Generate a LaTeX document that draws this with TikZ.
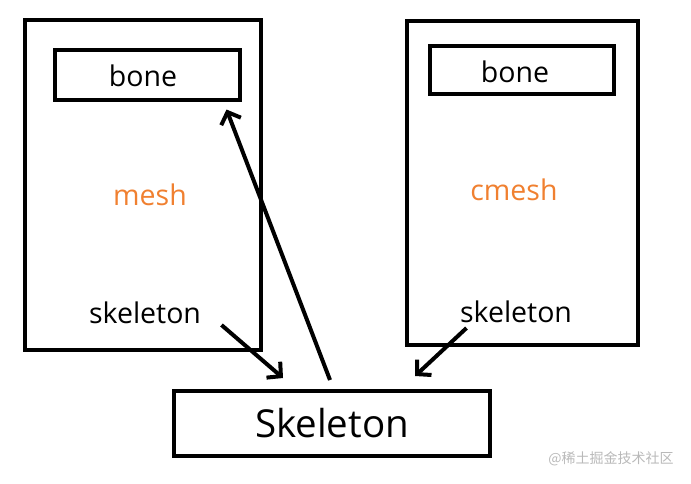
\documentclass[tikz,border=0pt]{standalone}
\usepackage{fontspec}
\setmainfont{Open Sans}
\newfontfamily\cjkfont{Noto Sans CJK SC}
\usepackage{xcolor}
\definecolor{MeshOrange}{RGB}{240,128,48}
\definecolor{MarkGrey}{RGB}{185,185,185}
\usepackage{tikz}
\usetikzlibrary{arrows.meta, positioning}
\tikzset{
	box/.style={draw, line width=4pt, inner sep=0pt},
	word/.style={font=\fontsize{28.5}{31}\selectfont},
	meshword/.style={word, text=MeshOrange},
	link/.style={line width=4pt, -{Straight Barb[length=10pt, width=21pt, line width=4pt]}}
}

\begin{document}
\begin{tikzpicture}[x=1pt, y=-1pt]

	\useasboundingbox (0,0) rectangle (691,483);

	% left block
	\node[box, minimum width=236pt, minimum height=330pt] (MeshL) at (143,185) {};
	\node[box, minimum width=185pt, minimum height=50pt] (BoneL) at (147,74.5) {};
	\node[word] (BoneLText) at (143,76) {bone};
	\node[meshword] (MeshText) at (150,195) {mesh};
	\node[word] (SkelL) at (145,313) {skeleton};

	% right block
	\node[box, minimum width=231pt, minimum height=324pt] (MeshR) at (522,183) {};
	\node[box, minimum width=184pt, minimum height=48pt] (BoneR) at (522,70) {};
	\node[word] (BoneRText) at (515,72) {bone};
	\node[meshword] (CMeshText) at (514,190) {cmesh};
	\node[word] (SkelR) at (516,312) {skeleton};

	% shared skeleton
	\node[box, font=\fontsize{38.5}{41}\selectfont, minimum width=316pt, minimum height=65pt] (Skel) at (332,423.5) {Skeleton};

	\draw[link] ([xshift=17pt, yshift=-12pt]SkelL.east) -- ([xshift=-49pt, yshift=11pt]Skel.north);
	\draw[link] ([xshift=-2pt, yshift=9pt]Skel.north) -- ([xshift=-15pt, yshift=-8pt]BoneL.south east);
	\draw[link] ([xshift=10pt, yshift=-16pt]SkelR.west) -- ([xshift=-77pt, yshift=13pt]Skel.north east);

	\node[text=MarkGrey, font=\cjkfont\fontsize{14}{16}\selectfont] (Mark) at (611,459) {@稀土掘金技术社区};

\end{tikzpicture}
\end{document}
